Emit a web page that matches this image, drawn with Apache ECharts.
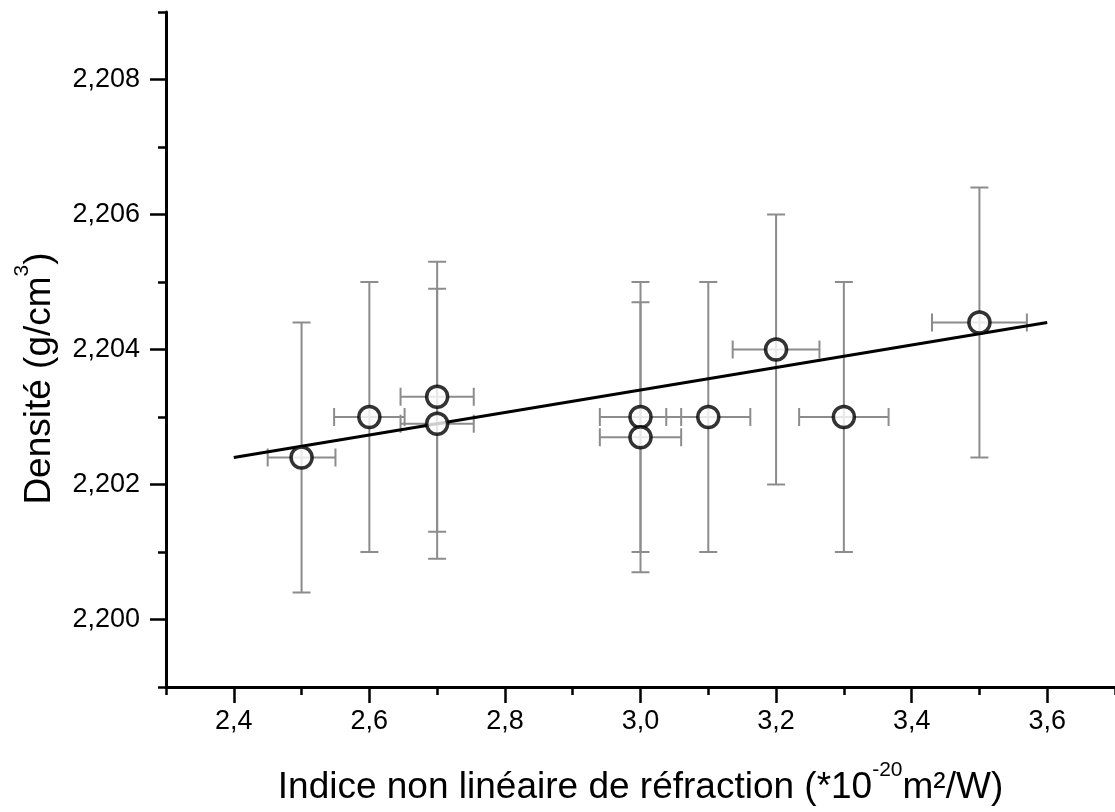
<!DOCTYPE html>
<html>
<head>
<meta charset="utf-8">
<script src="https://cdn.jsdelivr.net/npm/echarts@6/dist/echarts.min.js"></script>
<style>
  html, body { margin: 0; padding: 0; background: #fff; }
  #chart { width: 1115px; height: 812px; }
</style>
</head>
<body>
<div id="chart"></div>
<script>
// mesures
const xValues = [2.5, 2.6, 2.7, 2.7, 3.0, 3.0, 3.1, 3.2, 3.3, 3.5]
const yValues = [2.2024, 2.2030, 2.2033, 2.2029, 2.2030, 2.2027, 2.2030, 2.2040, 2.2030, 2.2044]
const xErr = [0.05, 0.052, 0.054, 0.054, 0.06, 0.06, 0.062, 0.064, 0.066, 0.07]
const yErr = [0.002, 0.002, 0.002, 0.002, 0.002, 0.002, 0.002, 0.002, 0.002, 0.002]

// droite d'ajustement
const fitX = [2.4, 3.6]
const fitY = [2.2024, 2.2044]

// graduations principales
const xMajorTicks = [2.4, 2.6, 2.8, 3.0, 3.2, 3.4, 3.6]
const yMajorTicks = [2.200, 2.202, 2.204, 2.206, 2.208]

const font = "'Liberation Sans', Arial, sans-serif"
const errColor = '#8c8c8c'

let chart = echarts.init(document.getElementById('chart'))

const points = xValues.map((x, i) => [x, yValues[i], xErr[i], yErr[i]])
const fitLine = fitX.map((x, i) => [x, fitY[i]])

const axisLineStyle = { color: '#000', width: 3 }
const tickStyle = { color: '#000', width: 2.5 }

// titre avec exposant
const titleRich = {
  a: { fontFamily: font, fontSize: 37, color: '#000', lineHeight: 56, verticalAlign: 'middle' },
  sup: { fontFamily: font, fontSize: 21, color: '#000', lineHeight: 21, verticalAlign: 'top' }
}

chart.setOption({
  animation: false,
  grid: {
    left: 166,
    right: 0,
    top: 12,
    bottom: 125,
    outerBoundsMode: 'none'
  },
  xAxis: [
    {
      // petites graduations
      type: 'value',
      position: 'bottom',
      min: 2.3,
      max: 3.7,
      interval: 0.1,
      axisLine: { show: true, onZero: false, lineStyle: axisLineStyle },
      axisTick: { show: true, length: 8, lineStyle: tickStyle },
      axisLabel: { show: false },
      splitLine: { show: false }
    },
    {
      type: 'value',
      position: 'bottom',
      min: 2.3,
      max: 3.7,
      interval: 0.1,
      axisLine: { show: false, onZero: false },
      axisTick: { show: true, length: 16, lineStyle: tickStyle, customValues: xMajorTicks },
      axisLabel: {
        customValues: xMajorTicks,
        color: '#000',
        fontFamily: font,
        fontSize: 27,
        margin: 21,
        formatter: v => v.toFixed(1).replace('.', ',')
      },
      splitLine: { show: false },
      name: '{a|Indice non linéaire de réfraction (*10}{sup|-20}{a|m²/W)}',
      nameLocation: 'middle',
      nameGap: 73,
      nameTextStyle: { rich: titleRich }
    }
  ],
  yAxis: [
    {
      type: 'value',
      position: 'left',
      min: 2.199,
      max: 2.209,
      interval: 0.001,
      axisLine: { show: true, onZero: false, lineStyle: axisLineStyle },
      axisTick: { show: true, length: 8, lineStyle: tickStyle },
      axisLabel: { show: false },
      splitLine: { show: false }
    },
    {
      type: 'value',
      position: 'left',
      min: 2.199,
      max: 2.209,
      interval: 0.001,
      axisLine: { show: false, onZero: false },
      axisTick: { show: true, length: 16, lineStyle: tickStyle, customValues: yMajorTicks },
      axisLabel: {
        customValues: yMajorTicks,
        color: '#000',
        fontFamily: font,
        fontSize: 27,
        margin: 26,
        formatter: v => v.toFixed(3).replace('.', ',')
      },
      splitLine: { show: false },
      name: '{a|Densité (g/cm}{sup|3}{a|)}',
      nameLocation: 'middle',
      nameGap: 98,
      nameTextStyle: {
        padding: [0, 58, 0, 0],
        rich: titleRich
      }
    }
  ],
  series: [
    {
      // barres d'erreur
      type: 'custom',
      xAxisIndex: 0,
      yAxisIndex: 0,
      z: 1,
      data: points,
      encode: { x: 0, y: 1 },
      renderItem: (params, api) => {
        const x = api.value(0)
        const y = api.value(1)
        const ex = api.value(2)
        const ey = api.value(3)
        const top = api.coord([x, y + ey])
        const bot = api.coord([x, y - ey])
        const left = api.coord([x - ex, y])
        const right = api.coord([x + ex, y])
        const cap = 9
        const style = { stroke: errColor, lineWidth: 2 }
        const seg = (x1, y1, x2, y2) => ({ type: 'line', shape: { x1, y1, x2, y2 }, style })
        return {
          type: 'group',
          children: [
            seg(top[0], top[1], bot[0], bot[1]),
            seg(top[0] - cap, top[1], top[0] + cap, top[1]),
            seg(bot[0] - cap, bot[1], bot[0] + cap, bot[1]),
            seg(left[0], left[1], right[0], right[1]),
            seg(left[0], left[1] - cap, left[0], left[1] + cap),
            seg(right[0], right[1] - cap, right[0], right[1] + cap)
          ]
        }
      }
    },
    {
      type: 'line',
      xAxisIndex: 0,
      yAxisIndex: 0,
      z: 2,
      data: fitLine,
      symbol: 'none',
      lineStyle: { color: '#000', width: 3 }
    },
    {
      type: 'scatter',
      xAxisIndex: 0,
      yAxisIndex: 0,
      z: 3,
      data: points.map(p => [p[0], p[1]]),
      symbol: 'circle',
      symbolSize: 21,
      itemStyle: { color: '#fff', borderColor: '#000', borderWidth: 3.5 }
    }
  ]
})
</script>
</body>
</html>
